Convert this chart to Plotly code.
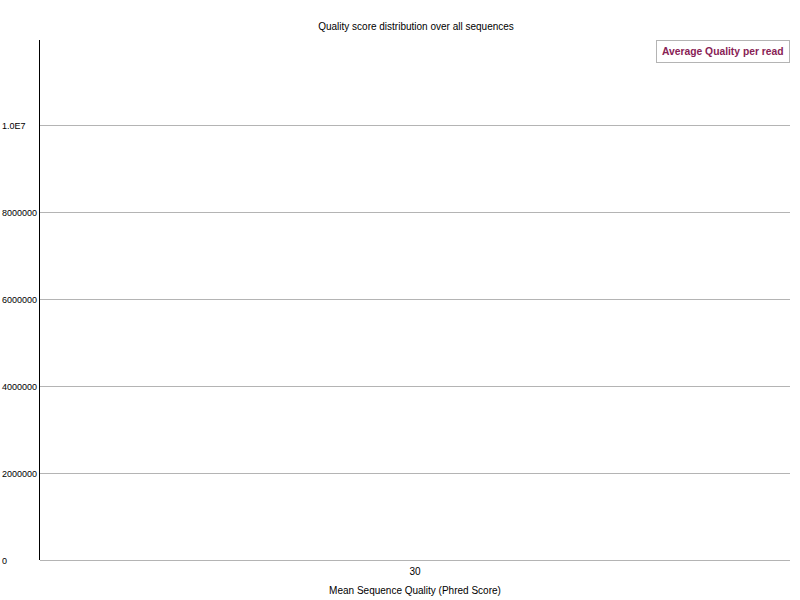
import plotly.graph_objects as go

# Data
quality_scores = ["30"]
read_counts = [11954000]
y_tick_values = [0, 2000000, 4000000, 6000000, 8000000, 10000000]
y_tick_labels = ["0", "2000000", "4000000", "6000000", "8000000", "1.0E7"]

line_color = "#882255"
font_family = "Liberation Sans, Arial, sans-serif"

fig = go.Figure()
fig.add_trace(go.Scatter(
    x=quality_scores, y=read_counts, mode="lines",
    line=dict(color=line_color, width=2), name="Average Quality per read",
    showlegend=False, hoverinfo="x+y"))

# left-aligned y tick labels, positioned with the y axis scale
for v, t in zip(y_tick_values, y_tick_labels):
    fig.add_annotation(x=-0.0535, xref="paper", y=v, yref="y", yshift=-1, text=t,
                       showarrow=False, xanchor="left", yanchor="middle",
                       font=dict(family=font_family, size=9, color="black"))

# legend box
fig.add_annotation(x=1, xref="paper", y=1, yref="paper", xanchor="right", yanchor="top",
                   text="<b>Average Quality per read</b>", showarrow=False,
                   font=dict(family=font_family, size=10.3, color=line_color),
                   bordercolor="#b4b4b4", borderwidth=1, borderpad=5, bgcolor="white")

fig.update_layout(
    width=800, height=600,
    margin=dict(l=40, r=10, t=40, b=40),
    paper_bgcolor="white", plot_bgcolor="white",
    font=dict(family=font_family, size=10, color="black"),
    title=dict(text="Quality score distribution over all sequences", x=0.52, xanchor="center",
               y=1 - 26 / 600, yanchor="middle", font=dict(family=font_family, size=10)),
    xaxis=dict(type="category", range=[-0.5, 0.5], showgrid=False, zeroline=False,
               showline=False, ticks="", ticklabelstandoff=4, automargin=False,
               title=dict(text="Mean Sequence Quality (Phred Score)", standoff=10,
                          font=dict(family=font_family, size=10))),
    yaxis=dict(range=[0, 11954000], tickvals=y_tick_values, showticklabels=False,
               automargin=False,
               showgrid=True, gridcolor="#b4b4b4", gridwidth=1, zeroline=True,
               zerolinecolor="#b4b4b4", zerolinewidth=1,
               showline=True, linecolor="black", linewidth=1, ticks=""),
)

fig.write_html("out.html")
